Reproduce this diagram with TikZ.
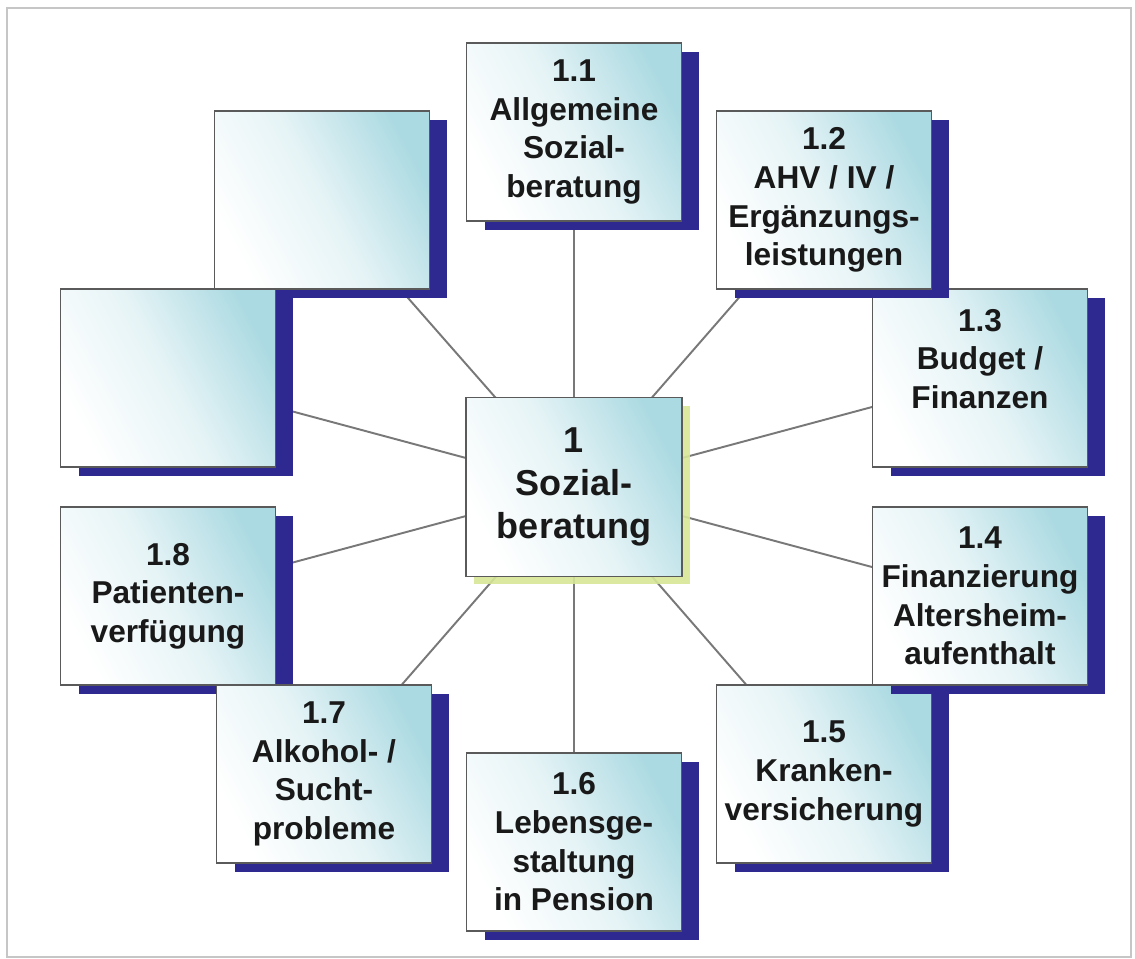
\documentclass[tikz,border=0pt]{standalone}
\usepackage{fontspec}
\setmainfont{Liberation Sans}
\usepackage{tikz}
\usetikzlibrary{shadows,backgrounds}

\definecolor{sombra}{RGB}{46,41,145}
\definecolor{sombraverde}{RGB}{214,230,150}
\definecolor{ciano}{RGB}{172,218,226}
\definecolor{borda}{RGB}{90,90,90}
\definecolor{linha}{RGB}{120,120,120}

\tikzset{
  caixabase/.style={draw=borda, line width=0.8pt, minimum width=4.3cm, minimum height=3.56cm,
    inner sep=0pt, align=center, text=black!90,
    font=\bfseries\fontsize{18}{22}\selectfont,
    top color=ciano, bottom color=white, middle color=ciano!30, shading angle=-62},
  caixa/.style={caixabase,
    drop shadow={shadow xshift=0.36cm, shadow yshift=-0.18cm, fill=sombra, opacity=1}},
  central/.style={caixabase, minimum width=4.32cm, minimum height=3.58cm,
    font=\bfseries\fontsize{20.5}{24.5}\selectfont,
    drop shadow={shadow xshift=0.16cm, shadow yshift=-0.16cm, fill=sombraverde, opacity=0.9}},
  ligacao/.style={draw=linha, line width=1.1pt}
}

\begin{document}
\begin{tikzpicture}[x=0.02cm, y=-0.02cm]
        \useasboundingbox (0,0) rectangle (1135,958);
        % Moldura
        \draw[gray!45, line width=0.8pt] (7,8) rectangle (1131,957);

        % Caixa central
        \node[central] (s) at (574,487) {1\\Sozial-\\beratung};

        % Caixas (ordem anti-horaria)
        \node[caixa] (s11) at (574,132) {1.1\\Allgemeine\\Sozial-\\beratung};
        \node[caixa] (e2) at (322,200) {};
        \node[caixa] (e1) at (168,378) {};
        \node[caixa] (s18) at (168,596) {1.8\\Patienten-\\verfügung};
        \node[caixa] (s17) at (324,774) {1.7\\Alkohol- /\\Sucht-\\probleme};
        \node[caixa] (s16) at (574,842) {1.6\\Lebensge-\\staltung\\in Pension};
        \node[caixa] (s15) at (824,774) {1.5\\Kranken-\\versicherung};
        \node[caixa] (s14) at (980,596) {1.4\\Finanzierung\\Altersheim-\\aufenthalt};
        \node[caixa] (s13) at (980,378) {1.3\\Budget /\\Finanzen\\\mbox{}};
        \node[caixa] (s12) at (824,200) {1.2\\AHV / IV /\\Ergänzungs-\\leistungen};

        % Ligacoes
        \begin{scope}[on background layer]
            \foreach \n in {s11,s12,s13,s14,s15,s16,s17,s18,e1,e2} {
                \draw[ligacao] (s.center) -- (\n.center);
            }
        \end{scope}
    \end{tikzpicture}
\end{document}
